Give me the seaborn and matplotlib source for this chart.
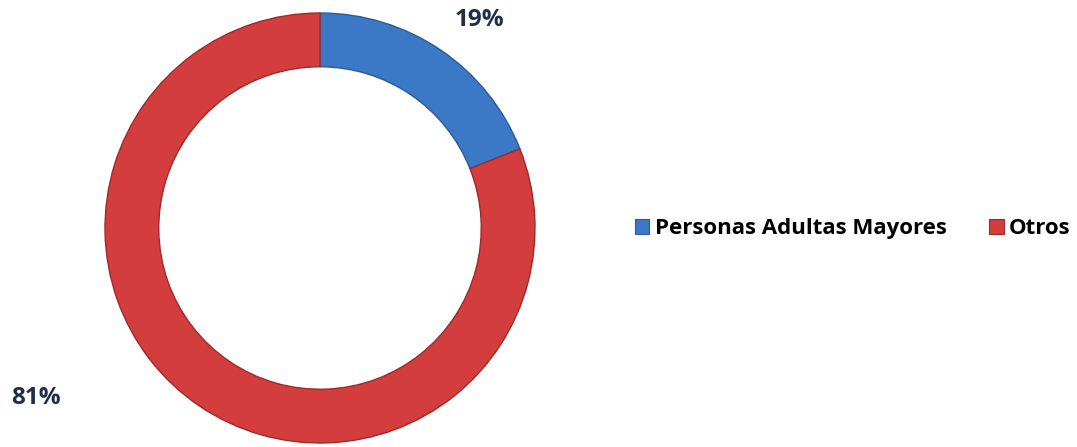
import matplotlib
matplotlib.use('Agg')
import matplotlib.pyplot as plt
from matplotlib.patches import Patch
import seaborn as sns

# Chart data
categories = ['Personas Adultas Mayores', 'Otros']
shares = [19, 81]
pct_labels = ['19%', '81%']

sns.set_theme(style='white')
plt.rcParams['font.family'] = ['Open Sans', 'DejaVu Sans']

colors = sns.color_palette(['#3b78c6', '#d33d3d'])
edge_colors = ['#2a5a9a', '#9e2a2a']

W, H = 1077, 447
fig = plt.figure(figsize=(W / 100, H / 100), dpi=100)
fig.patch.set_facecolor('white')

# Donut centre (320, 228) px, outer radius 215 px
cx, cy, r = 320, 228, 215
ax = fig.add_axes([(cx - r) / W, (H - cy - r) / H, 2 * r / W, 2 * r / H])
wedges, _ = ax.pie(shares, colors=colors, startangle=90, counterclock=False,
                   radius=1.0, wedgeprops=dict(width=0.25, linewidth=1.0))
for w, ec in zip(wedges, edge_colors):
    w.set_edgecolor(ec)
ax.set_xlim(-1, 1)
ax.set_ylim(-1, 1)
ax.set_aspect('equal')
ax.axis('off')

# Percentage labels placed like the original
label_pos = [((479 - cx) / r, (cy - 20) / r), ((36 - cx) / r, (cy - 398) / r)]
for txt, (lx, ly) in zip(pct_labels, label_pos):
    ax.text(lx, ly, txt, ha='center', va='center', fontsize=17.5,
            fontweight='bold', color='#1d2f4d', clip_on=False)

handles = [Patch(facecolor=c, edgecolor=ec, linewidth=0.8) for c, ec in zip(colors, edge_colors)]
leg = fig.legend(handles, categories, loc='center left', bbox_to_anchor=(635 / W, 1 - 229 / H),
                 ncol=2, frameon=False, handlelength=0.65, handleheight=0.65, handletextpad=0.25,
                 columnspacing=1.9, borderaxespad=0, borderpad=0,
                 prop=dict(family='Open Sans', weight='bold', size=16))
for t in leg.get_texts():
    t.set_color('black')

fig.savefig('out.png', dpi=100, facecolor='white')
